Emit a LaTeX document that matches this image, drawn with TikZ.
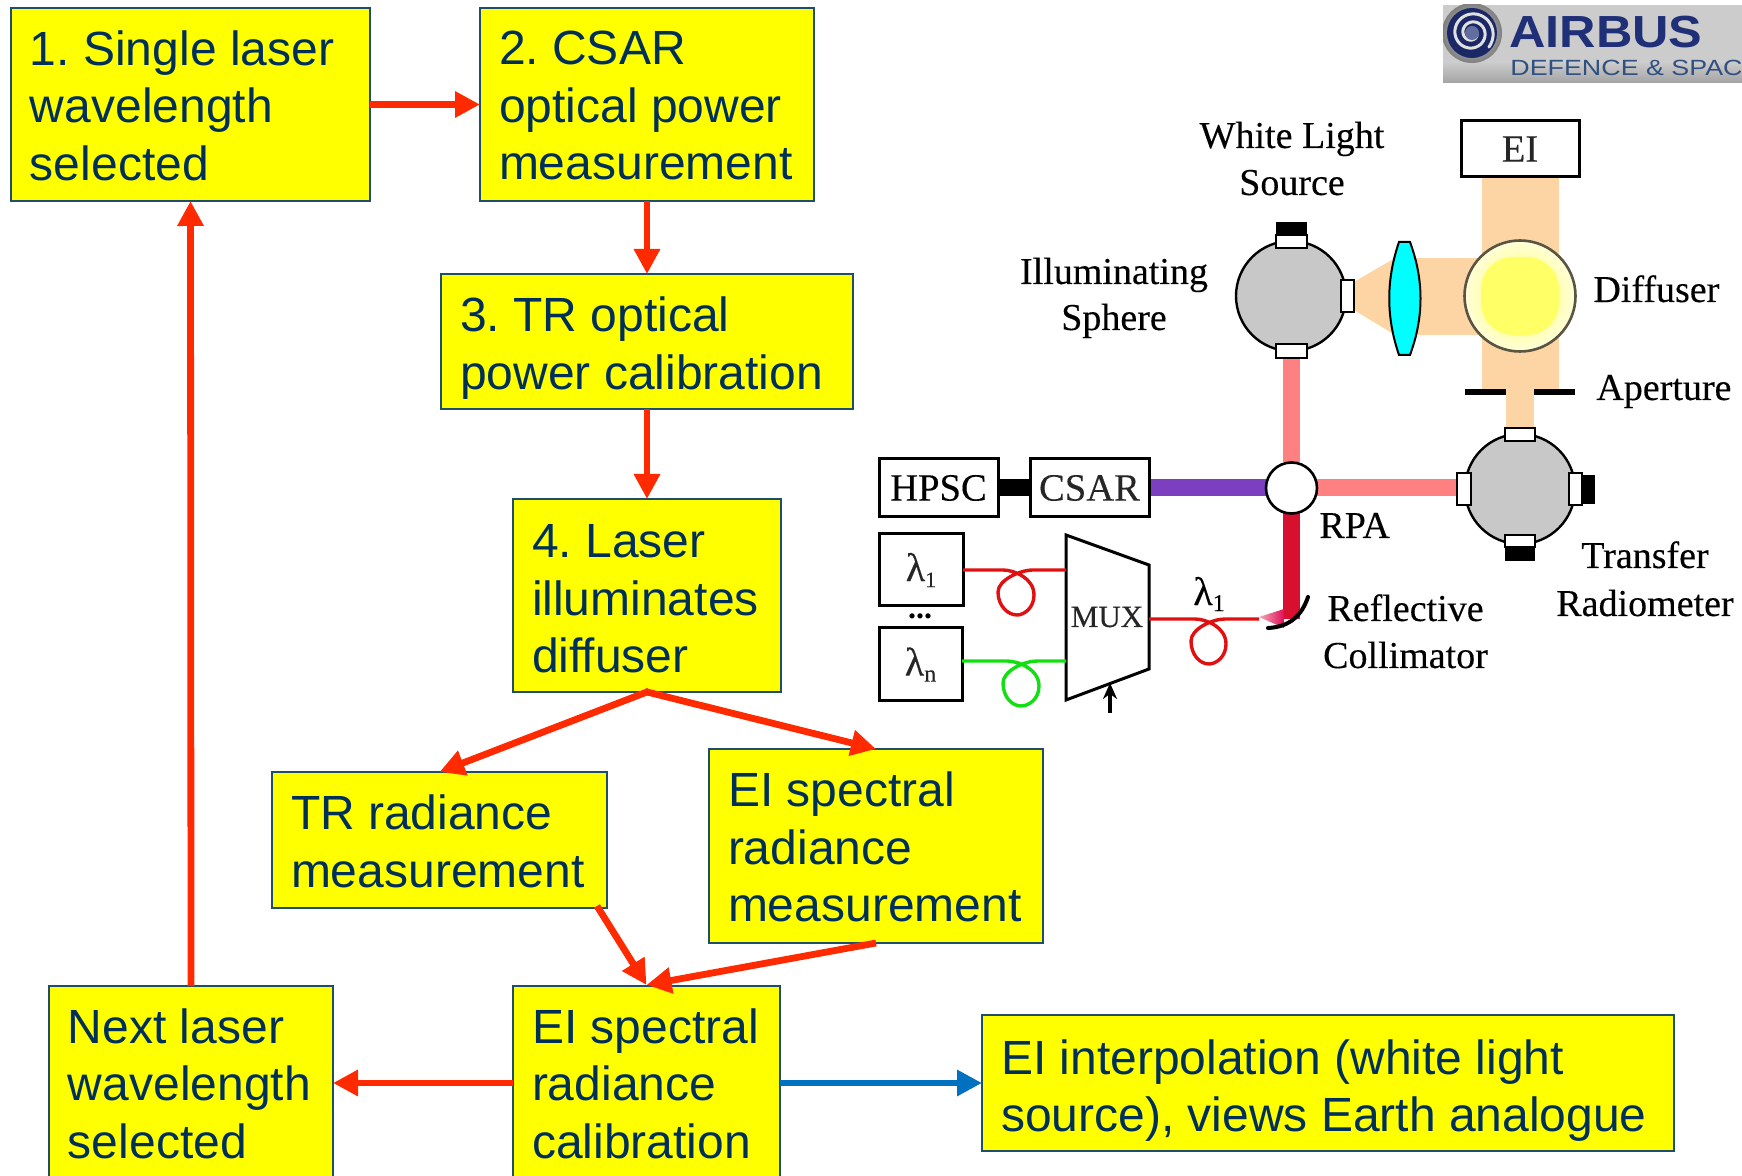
\documentclass[tikz,border=0pt]{standalone}
\usepackage{fontspec}
\setmainfont{Liberation Serif}
\newfontfamily\arialf{Liberation Sans}
\newfontfamily\labf[FakeBold=0.25]{Liberation Serif}
\usetikzlibrary{arrows.meta,calc,backgrounds}
\definecolor{navytext}{HTML}{00305A}
\definecolor{boxline}{HTML}{1F4E6B}
\definecolor{boxyellow}{HTML}{FFFF00}
\definecolor{lenscyan}{HTML}{00FFFF}
\definecolor{arrowred}{HTML}{FF2A00}
\definecolor{arrowblue}{HTML}{0070C0}
\definecolor{beamorange}{HTML}{FDD5A5}
\definecolor{beampink}{HTML}{FF8080}
\definecolor{beampurple}{HTML}{7B3FBF}
\definecolor{beamcrimson}{HTML}{D81030}
\definecolor{spheregray}{HTML}{C8C8C8}
\definecolor{fibrered}{HTML}{E01010}
\definecolor{fibregreen}{HTML}{10E010}
\definecolor{logoblue}{HTML}{1F2F78}
\definecolor{logoblueb}{HTML}{2F5080}
\definecolor{difinner}{HTML}{FFFF66}
\definecolor{difouter}{HTML}{FFFFD8}
\newcommand{\flowbox}[7]{%
  \pgfmathsetmacro{\bw}{(#4-#2)*0.5}%
  \pgfmathsetmacro{\bh}{(#5-#3)*0.5}%
  \node[flowbox,minimum width=\bw pt,minimum height=\bh pt] (#1) at ({(#2+#4)/2},{(#3+#5)/2}) {\hbox to \dimexpr\bw pt-19pt\relax{\vbox{\hsize=\dimexpr\bw pt-19pt\relax\frenchspacing\raggedright\vspace*{#7pt}#6}}};}
\newcommand{\opticbox}[6]{%
  \pgfmathsetmacro{\bw}{(#4-#2)*0.5}%
  \pgfmathsetmacro{\bh}{(#5-#3)*0.5}%
  \node[opticbox,minimum width=\bw pt,minimum height=\bh pt] (#1) at ({(#2+#4)/2},{(#3+#5)/2}) {#6};}
\tikzset{
  x=0.5pt,y=-0.5pt,
  flowbox/.style={draw=boxline,line width=1pt,fill=boxyellow,text=navytext,inner sep=0pt,outer sep=0pt,
    font=\arialf\fontsize{24}{28.8}\selectfont},
  opticbox/.style={draw=black,line width=1.5pt,fill=white,inner sep=0pt,outer sep=0pt,text=black!85,
    font=\labf\fontsize{19.3}{19.3}\selectfont},
  redarrow/.style={draw=arrowred,line width=3.4pt,-{Triangle[length=12.5pt,width=12.5pt]}},
  bluearrow/.style={draw=arrowblue,line width=3.4pt,-{Triangle[length=12.5pt,width=12.5pt]}},
  lab/.style={font=\labf\fontsize{19}{23.5}\selectfont,text=black,align=center,inner sep=0pt},
  sphere/.style={circle,draw=black,line width=1.2pt,fill=spheregray,minimum size=55pt,inner sep=0pt,outer sep=0pt},
  port/.style={draw=black,line width=1pt,fill=white},
  blk/.style={fill=black},
  beam/.style={line width=8.5pt},
  fibre/.style={line width=1.7pt},
}
\begin{document}
\begin{tikzpicture}
\useasboundingbox (0,0) rectangle (1742,1176);
\clip (0,0) rectangle (1742,1176);
% flow boxes
\flowbox{n1}{11}{8}{370}{201}{1. Single laser\\wavelength\\selected}{1.2}
\flowbox{n2}{480}{8}{814}{201}{2. CSAR\\optical power\\measurement}{1.2}
\flowbox{n3}{441}{274}{853}{409}{3. TR optical\\power calibration}{6.4}
\flowbox{n4}{513}{499}{781}{692}{4. Laser\\illuminates\\diffuser}{3.4}
\flowbox{trm}{272}{772}{607}{908}{TR radiance\\measurement}{1.6}
\flowbox{eim}{709}{749}{1043}{943}{EI spectral\\radiance\\measurement}{1}
\flowbox{nxt}{49}{986}{333}{1180}{Next laser\\wavelength\\selected}{0.8}
\flowbox{cal}{513}{986}{780}{1180}{EI spectral\\radiance\\calibration}{0.8}
\flowbox{interp}{982}{1015}{1674}{1151}{EI interpolation (white light\\source), views Earth analogue}{7.6}
% flow arrows
\draw[redarrow] (n1.east) -- (n2.west);
\draw[redarrow] (n2.south) -- (n3.north);
\draw[redarrow] (n3.south) -- (n4.north);
\draw[redarrow,shorten <=-1pt] (n4.south) -- (trm.north);
\draw[redarrow,shorten <=-1pt] (n4.south) -- (eim.north);
\draw[redarrow] ($(trm.south east)+(-10,-2)$) -- ($(cal.north)+(0,-1)$);
\draw[redarrow] (eim.south) -- ($(cal.north)+(0,-1)$);
\draw[redarrow] (nxt.north) -- (n1.south);
\draw[redarrow] (cal.west) -- (nxt.east);
\draw[bluearrow] (cal.east) -- (interp.west);
% logo
\begin{scope}
  \fill[black!20] (1443,5) rectangle (1742,83);
  \shade[top color=black!20,bottom color=black!36] (1443,62) rectangle (1742,83);
  \clip (1443,5) rectangle (1742,83);
  \shade[inner color=black!15,outer color=black!50] (1472,33) circle[radius=15pt];
  \fill[logoblue!85!black] (1472,33) circle[radius=12.5pt];
  \draw[black!12,line width=1.5pt,line cap=round,domain=0:760,samples=80,smooth,variable=\t]
    plot ({1472+(5+\t/760*17)*cos(\t)},{33+(5+\t/760*17)*sin(\t)});
  \fill[logoblue!70] (1472,33) circle[radius=3.5pt];
  \node[anchor=base west,inner sep=0pt,text=logoblue,font=\arialf\bfseries\fontsize{22.5}{22.5}\selectfont] (airbus) at (1509,48) {\scalebox{1.12}[1]{AIRBUS}};
  \node[anchor=base west,inner sep=0pt,text=logoblueb,font=\arialf\fontsize{11}{11}\selectfont] (defence) at (1510,76) {\scalebox{1.22}[1]{DEFENCE \& SPACE}};
\end{scope}
% optical nodes
\opticbox{ei}{1461}{121}{1579}{177}{EI}
\opticbox{hpsc}{879}{459}{998}{517}{\textcolor{black}{HPSC}}
\opticbox{csar}{1030}{459}{1149}{517}{CSAR}
\opticbox{l1}{879}{534}{963}{606}{\fontsize{20}{20}\selectfont λ\raisebox{-3pt}{\fontsize{11}{11}\selectfont 1}}
\opticbox{ln}{879}{628}{962}{701}{\fontsize{20}{20}\selectfont λ\raisebox{-3pt}{\fontsize{12}{12}\selectfont n}}
\node[sphere] (ils) at (1291,296) {};
\node[sphere] (trs) at (1520,489) {};
\node[circle,draw=black!75!yellow,line width=1.3pt,inner color=difinner,outer color=difouter,minimum size=55.5pt,inner sep=0pt,outer sep=0pt] (dif) at (1520,296) {};
\fill[difinner,rounded corners=16pt] (1481,257) rectangle (1559,335);
\node[circle,draw=black,line width=1.3pt,fill=white,minimum size=25.5pt,inner sep=0pt,outer sep=0pt] (rpa) at (1291.5,488) {};
% ports
\fill[blk] (1276,222) rectangle (1307,235);
\path[port] (1276,235) rectangle (1307,248);
\path[port] (1276,344) rectangle (1307,358);
\path[port] (1341,280) rectangle (1354,312);
\path[port] (1505,428) rectangle (1535,441);
\path[port] (1457,473) rectangle (1471,505);
\path[port] (1569,473) rectangle (1582,505);
\fill[blk] (1582,475) rectangle (1595,504);
\path[port] (1505,535) rectangle (1535,547);
\fill[blk] (1505,547) rectangle (1535,561);
\coordinate (ilsb) at (1291.5,358);
\coordinate (trl) at (1457,488);
\coordinate (mirror) at (1291.5,619);
% lens
\path[draw=black,line width=1pt,fill=lenscyan] (1399,242) -- (1410,242) .. controls (1424,280) and (1424,317) .. (1410,355) -- (1399,355) .. controls (1386,317) and (1386,280) .. (1399,242) -- cycle;
% aperture
\fill[black] (1465,389) rectangle (1506,395);
\fill[black] (1534,389) rectangle (1575,395);
% beams behind
\begin{scope}[on background layer]
  \fill[beamorange] (1481.5,177) rectangle (1559,392);
  \fill[beamorange] (1506,392) rectangle (1534,428);
  \fill[beamorange] (1400,258) rectangle (1490,335);
  \fill[beamorange] (1354,282) -- (1395,258) -- (1395,335) -- (1354,310) -- cycle;
  \draw[beam,beampink] (ilsb) -- (rpa.north);
  \draw[beam,beampink] (rpa.east) -- (trl);
  \draw[beam,beampurple] (csar.east) -- (rpa.west);
  \draw[beam,black] (hpsc.east) -- (csar.west);
  \draw[beam,beamcrimson] (rpa.south) -- (mirror);
  \shade[left color=beamcrimson!35!white,right color=beamcrimson!80!magenta] (1259,617) -- (1284,609) -- (1284,628) -- cycle;
\end{scope}
% mirror
\draw[black,line width=2pt,line cap=round] (1308,597) .. controls (1302,615) and (1290,627) .. (1268,628);
% MUX
\node[draw=none,inner sep=0pt,font=\labf\fontsize{15.5}{15.5}\selectfont,text=black!85] (muxlabel) at (1107,617) {MUX};
\draw[black,line width=1.5pt,line join=miter] (1066,535) -- (1149,565) -- (1149,669) -- (1066,700) -- cycle;
\coordinate (muxl1) at (1066,570);
\coordinate (muxln) at (1066,661);
\coordinate (muxout) at (1149,619);
\coordinate (outend) at (1259,619);
\coordinate (ctrlbase) at (1110,713);
\coordinate (ctrltip) at (1110,683);
\draw[black,line width=1.6pt,-{Stealth[length=8pt,width=7pt]}] (ctrlbase) -- (ctrltip);
% fibres
\draw[fibre,fibrered] (l1.east|-muxl1) -- (1003,570) .. controls (1014,570) and (1034,578) .. (1034,595) .. controls (1034,608) and (1024,615) .. (1017,615) .. controls (1008,615) and (998,606) .. (998,592) .. controls (998,580) and (1020,570) .. (1033,570) -- (muxl1);
\draw[fibre,fibregreen] (ln.east|-muxln) -- (1007,661) .. controls (1018,661) and (1039,669) .. (1039,686) .. controls (1039,699) and (1029,706) .. (1021,706) .. controls (1012,706) and (1003,697) .. (1003,683) .. controls (1003,671) and (1024,661) .. (1037,661) -- (muxln);
\draw[fibre,fibrered] (muxout) -- (1195,619) .. controls (1206,619) and (1226,627) .. (1226,644) .. controls (1226,657) and (1216,664) .. (1209,664) .. controls (1200,664) and (1191,655) .. (1191,641) .. controls (1191,629) and (1212,619) .. (1225,619) -- (outend);
% labels
\node[lab,anchor=base] (t1) at (1292,148) {White Light};
\node[lab,anchor=base] (t2) at (1292,195) {Source};
\node[lab,anchor=base] (t3) at (1114,284) {Illuminating};
\node[lab,anchor=base] (t4) at (1114,330) {Sphere};
\node[lab,anchor=base west] (t5) at (1593,302) {Diffuser};
\node[lab,anchor=base west] (t6) at (1596,400) {Aperture};
\node[lab,anchor=base west] (t7) at (1319,538) {RPA};
\node[lab,anchor=base] (t8) at (1645,568) {Transfer};
\node[lab,anchor=base] (t9) at (1645,616) {Radiometer};
\node[lab,anchor=base] (t10) at (1405.5,621) {Reflective};
\node[lab,anchor=base] (t11) at (1405.5,668) {Collimator};
\node[lab,font=\labf\fontsize{20}{20}\selectfont] (t12) at (1209,594) {λ\raisebox{-3pt}{\fontsize{12}{12}\selectfont 1}};
\node[lab,font=\bfseries\fontsize{16}{16}\selectfont] (t13) at (920,616) {...};
\end{tikzpicture}
\end{document}
